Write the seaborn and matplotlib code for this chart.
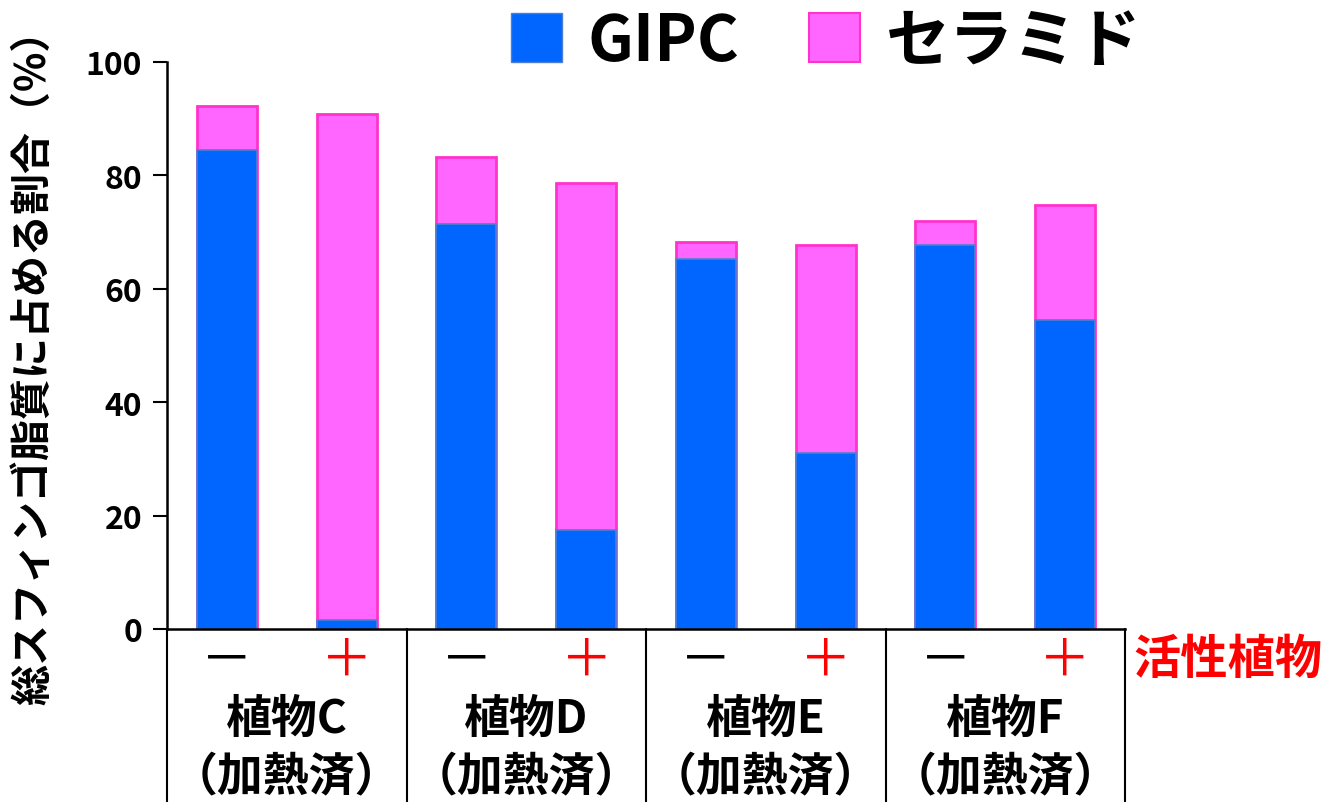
import matplotlib
matplotlib.use("Agg")
import matplotlib.pyplot as plt
import matplotlib.transforms as mtransforms
from matplotlib.patches import Patch
import seaborn as sns
import pandas as pd

# ---- data ----
plants = ["植物C", "植物D", "植物E", "植物F"]
heated = "（加熱済）"
treatments = ["－", "＋"]
categories = ["C-", "C+", "D-", "D+", "E-", "E+", "F-", "F+"]
gipc = [84.5, 1.6, 71.4, 17.5, 65.3, 31.0, 67.8, 54.5]
ceramide = [7.7, 89.3, 11.8, 61.2, 3.0, 36.8, 4.1, 20.3]
series_names = ["GIPC", "セラミド"]
yticks = [0, 20, 40, 60, 80, 100]
ylabel = "総スフィンゴ脂質に占める割合（%）"
active_label = "活性植物"

BLUE = "#0066FF"
BLUE_EDGE = "#4F7FD0"
PINK = "#FF66FF"
PINK_EDGE = "#FF33CC"
RED = "#FF0000"

sns.set_theme(style="white")
plt.rcParams["font.family"] = ["Noto Sans CJK JP", "DejaVu Sans"]
plt.rcParams["text.color"] = "black"
plt.rcParams["ytick.color"] = "black"
plt.rcParams["axes.labelcolor"] = "black"

df = pd.DataFrame({
    "cat": categories,
    "gipc": gipc,
    "total": [g + c for g, c in zip(gipc, ceramide)],
})

fig = plt.figure(figsize=(13.26, 8.03), dpi=100)
ax = fig.add_axes([167 / 1326, 1 - 630 / 803, (1125 - 167) / 1326, (630 - 63) / 803])

sns.barplot(data=df, x="cat", y="total", order=categories, color=PINK,
            edgecolor=PINK_EDGE, linewidth=2, width=0.5, saturation=1, ax=ax)
sns.barplot(data=df, x="cat", y="gipc", order=categories, color=BLUE,
            edgecolor=BLUE_EDGE, linewidth=1.2, width=0.5, saturation=1, ax=ax)

ax.set_xlim(-0.5, 7.5)
ax.set_ylim(0, 100)
ax.set_yticks(yticks)
ax.set_yticklabels([str(t) for t in yticks], fontsize=23, fontweight="bold",
                   color="black")
ax.set_xticks([])
ax.set_xlabel("")
ax.set_ylabel("")
ax.tick_params(axis="y", direction="out", length=10, width=1.5, pad=8, left=True,
               color="black")
for side in ["top", "right"]:
    ax.spines[side].set_visible(False)
for side in ["left", "bottom"]:
    ax.spines[side].set_color("black")
    ax.spines[side].set_linewidth(1.8)

trans = mtransforms.blended_transform_factory(ax.transData, ax.transAxes)
# separators
for xs in [-0.5, 1.5, 3.5, 5.5, 7.5]:
    ax.plot([xs, xs], [0, -0.32], transform=trans, color="black", lw=1.5,
            clip_on=False)

# treatment signs
for i, cat in enumerate(categories):
    sign = treatments[i % 2]
    ax.text(i, -0.054, sign, transform=trans, ha="center", va="center",
            fontsize=37, color="black" if i % 2 == 0 else RED)

# group labels
for g, name in enumerate(plants):
    xc = 2 * g + 0.5
    ax.text(xc, -0.158, name, transform=trans, ha="center", va="center",
            fontsize=33, fontweight="bold", color="black")
    ax.text(xc, -0.262, heated, transform=trans, ha="center", va="center",
            fontsize=33, fontweight="bold", color="black")

fig.text(1133 / 1326, 1 - 660 / 803, active_label, ha="left", va="center",
         fontsize=34, fontweight="bold", color=RED)

fig.text(33 / 1326, 1 - 357 / 803, ylabel, rotation=90, ha="center",
         va="center", fontsize=29.5, fontweight="bold", color="black")

handles = [Patch(facecolor=BLUE, edgecolor=BLUE_EDGE, linewidth=1),
           Patch(facecolor=PINK, edgecolor=PINK_EDGE, linewidth=1.5)]
fig.legend(handles, series_names, loc="center", bbox_to_anchor=(0.623, 0.948),
           ncol=2, frameon=False, prop={"size": 46, "weight": "bold"},
           handlelength=0.8, handleheight=0.8, handletextpad=0.4,
           columnspacing=1.1, borderpad=0, borderaxespad=0, labelcolor="black")

fig.savefig("out.png", dpi=100, facecolor="white")
